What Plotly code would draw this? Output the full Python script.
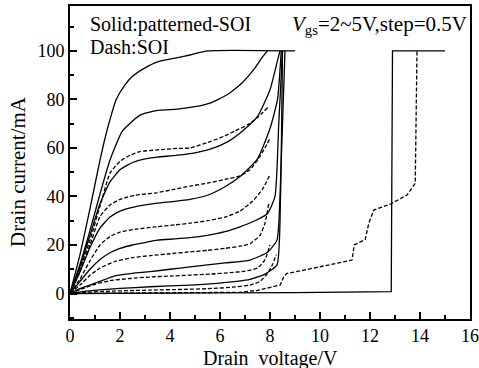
import plotly.graph_objects as go

# ---------------- data ----------------
# Solid curves: patterned-SOI
s1_v = [0, 0.4, 0.8, 1.2, 1.5, 1.85, 2.2, 2.5, 3.0, 3.5, 4.2, 4.8, 5.5, 9.0]
s1_i = [0, 16, 35, 55, 68, 80, 86, 89.5, 93, 95.5, 97, 98.3, 100, 100]

s2_v = [0, 0.4, 0.8, 1.2, 1.6, 2.1, 2.8, 3.5, 4.3, 5.0, 5.6, 6.3, 6.9, 7.4, 7.7, 7.9]
s2_i = [0, 12, 26, 41, 55, 67, 73.5, 75.5, 76, 77, 78.5, 82, 87, 93, 97.5, 100]

s3_v = [0, 0.4, 0.8, 1.2, 1.6, 2.0, 2.5, 3.0, 3.5, 4.3, 5.0, 5.6, 6.3, 6.9, 7.5, 8.0, 8.3, 8.4]
s3_i = [0, 11, 24, 37, 46, 51, 54, 55.5, 56.2, 57, 58, 59.5, 62.5, 67, 73, 84, 96, 100]

s4_v = [0, 0.4, 0.8, 1.2, 1.6, 2.0, 2.5, 3.0, 3.5, 4.2, 4.8, 5.5, 6.2, 6.8, 7.5, 8.0, 8.3, 8.45]
s4_i = [0, 9, 19, 27, 31.5, 34, 35.5, 36.5, 37.3, 38, 38.8, 40.5, 44, 48.2, 55.5, 68, 80, 100]

s5_v = [0, 0.4, 0.8, 1.2, 1.6, 2.0, 2.5, 3.0, 3.5, 4.2, 4.8, 5.5, 6.2, 6.8, 7.4, 7.9, 8.2, 8.35, 8.5]
s5_i = [0, 5, 10, 14, 16.8, 18.6, 20, 21, 22, 22.5, 23, 24, 25.5, 27.5, 30, 33, 40, 70, 100]

s6_v = [0, 0.4, 0.8, 1.2, 1.8, 2.5, 3.2, 4.0, 4.8, 5.5, 6.2, 7.2, 7.9, 8.28, 8.4, 8.6]
s6_i = [0, 2, 3.5, 5, 7.3, 8.3, 9, 10, 11, 11.8, 12.6, 13.8, 17, 22, 40, 100]

s7_v = [0, 0.5, 1.2, 2.0, 3.2, 4.8, 5.9, 7.2, 7.8, 8.28, 8.42, 8.5]
s7_i = [0, 0.8, 1.5, 2.1, 2.8, 3.5, 4.2, 5.8, 8, 11.8, 40, 100]

s8_v = [0, 1, 3, 6, 9, 12, 12.85, 12.9, 15.0]
s8_i = [0, 0.1, 0.2, 0.3, 0.4, 0.6, 0.8, 100, 100]

# Dashed curves: SOI
d1_v = [0, 0.4, 0.8, 1.2, 1.6, 2.0, 2.4, 2.8, 3.5, 4.3, 4.8, 5.6, 6.2, 6.6, 7.1, 7.5, 7.94]
d1_i = [0, 10, 22, 36, 49.6, 54.5, 57, 58.5, 59.2, 59.8, 60, 62.6, 65, 67, 69.5, 72.5, 77]

d2_v = [0, 0.4, 0.8, 1.2, 1.6, 2.0, 2.6, 3.45, 4.2, 4.82, 5.5, 6.2, 6.8, 7.2, 7.5, 7.8, 8.0]
d2_i = [0, 9, 20, 31.7, 36.5, 38.8, 40.5, 41.5, 43, 44.3, 45.5, 47, 48.5, 51, 55, 60, 64]

d3_v = [0, 0.4, 0.8, 1.2, 1.6, 2.0, 2.6, 3.45, 4.2, 4.82, 5.5, 6.2, 6.8, 7.3, 7.7, 8.0]
d3_i = [0, 6, 13.5, 20, 23.5, 25.3, 26.5, 27.5, 28.3, 29, 30, 31.5, 34, 38, 43, 49]

d4_v = [0, 0.4, 0.8, 1.2, 1.8, 2.5, 3.2, 4.0, 4.82, 5.5, 6.2, 6.8, 7.2, 7.6, 7.8, 7.95]
d4_i = [0, 3.5, 7.5, 10.5, 13.2, 14.8, 15.6, 16.4, 17.2, 17.8, 18.6, 19.5, 20.5, 24, 29, 37]

d5_v = [0, 0.5, 1.0, 1.6, 2.4, 3.2, 4.0, 4.82, 5.6, 6.4, 7.0, 7.5, 7.8, 8.0]
d5_i = [0, 2, 3.8, 5.3, 6.2, 6.8, 7.2, 7.6, 8, 8.6, 9.2, 10.5, 14, 20]

d6_v = [0, 0.8, 1.6, 2.4, 3.2, 4.5, 5.5, 6.5, 7.2, 7.6, 7.9, 8.1, 8.25]
d6_i = [0, 0.6, 1, 1.2, 1.4, 1.7, 2, 2.6, 3.5, 5, 8.3, 12, 16]

d7_v = [0, 3, 6, 6.8, 7.5, 8.0, 8.41, 8.55, 8.68, 9.2, 9.74, 10.5, 11.28, 11.37,
        11.81, 11.95, 12.15, 12.81, 13.48, 13.81, 13.88]
d7_i = [0, 0.1, 0.2, 0.5, 1.3, 2.5, 3.5, 7, 8.3, 9.3, 10.4, 12, 13.8, 20,
        22.3, 28.9, 34.4, 36.8, 40.6, 45.4, 100]

x_ticks = [0, 2, 4, 6, 8, 10, 12, 14, 16]
y_ticks = [0, 20, 40, 60, 80, 100]

x_title = "Drain  voltage/V"
y_title = "Drain current/mA"
note1 = "Solid:patterned-SOI"
note2 = "Dash:SOI"
note3 = "<i>V</i><sub>gs</sub>=2~5V,step=0.5V"

# ---------------- figure ----------------
FONT = "Liberation Serif"
fig = go.Figure()

smooth_solid = [(s1_v, s1_i), (s2_v, s2_i), (s3_v, s3_i), (s4_v, s4_i),
                (s5_v, s5_i), (s6_v, s6_i), (s7_v, s7_i)]
for v, i in smooth_solid:
    fig.add_trace(go.Scatter(x=v, y=i, mode="lines",
                             line=dict(color="black", width=1.3, shape="spline", smoothing=0.5),
                             showlegend=False, hoverinfo="skip"))
fig.add_trace(go.Scatter(x=s8_v, y=s8_i, mode="lines",
                         line=dict(color="black", width=1.3),
                         showlegend=False, hoverinfo="skip"))

smooth_dash = [(d1_v, d1_i), (d2_v, d2_i), (d3_v, d3_i), (d4_v, d4_i),
               (d5_v, d5_i), (d6_v, d6_i)]
for v, i in smooth_dash:
    fig.add_trace(go.Scatter(x=v, y=i, mode="lines",
                             line=dict(color="black", width=1.3, dash="4px,2px",
                                       shape="spline", smoothing=0.5),
                             showlegend=False, hoverinfo="skip"))
fig.add_trace(go.Scatter(x=d7_v, y=d7_i, mode="lines",
                         line=dict(color="black", width=1.3, dash="4px,2px"),
                         showlegend=False, hoverinfo="skip"))

tickfont = dict(family=FONT, size=18, color="black")
axis_common = dict(showline=True, linecolor="black", linewidth=1.6, mirror=True,
                   showgrid=False, zeroline=False, ticks="inside", ticklen=7,
                   tickwidth=1.5, tickcolor="black", ticklabeloverflow="allow",
                   automargin=False)

fig.update_xaxes(range=[0, 16], tickvals=x_ticks, tickfont=tickfont,
                 minor=dict(dtick=1, tick0=0, ticks="inside", ticklen=4,
                            tickwidth=1.5, tickcolor="black"),
                 **axis_common)
fig.update_yaxes(range=[-10.5, 118.5], tickvals=y_ticks, tickfont=tickfont,
                 minor=dict(dtick=10, tick0=0, ticks="inside", ticklen=4,
                            tickwidth=1.5, tickcolor="black"),
                 **axis_common)

tfont = dict(family=FONT, size=20, color="black")
nfont = dict(family=FONT, size=20, color="black")
fig.update_layout(
    width=479, height=368,
    font=dict(family=FONT, size=18, color="black"),
    margin=dict(l=70, r=9, t=6, b=49, autoexpand=False),
    paper_bgcolor="white", plot_bgcolor="white",
    annotations=[
        dict(text=x_title, xref="paper", yref="paper", x=0.5, y=-0.125,
             xanchor="center", yanchor="middle", showarrow=False, font=tfont),
        dict(text=y_title, xref="paper", yref="paper", x=-0.13, y=0.47,
             xanchor="center", yanchor="middle", textangle=-90, showarrow=False,
             font=dict(family=FONT, size=21, color="black")),
        dict(text=note1, xref="paper", yref="paper", x=0.045, y=0.94,
             xanchor="left", yanchor="middle", showarrow=False, font=nfont),
        dict(text=note2, xref="paper", yref="paper", x=0.045, y=0.87,
             xanchor="left", yanchor="middle", showarrow=False, font=nfont),
        dict(text=note3, xref="paper", yref="paper", x=0.997, y=0.94,
             xanchor="right", yanchor="middle", showarrow=False,
             font=dict(family=FONT, size=21, color="black")),
    ],
)

fig.write_html("out.html")
